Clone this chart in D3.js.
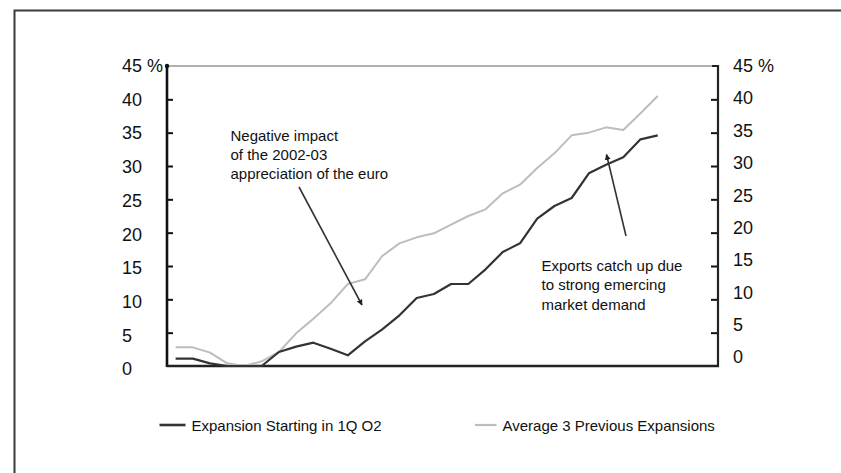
<!DOCTYPE html>
<html>
<head>
<meta charset="utf-8">
<script src="https://cdn.jsdelivr.net/npm/d3@7/dist/d3.min.js"></script>
<style>
  html, body { margin: 0; padding: 0; background: #fff; }
  svg { display: block; }
  text { font-family: "Liberation Sans", Arial, Helvetica, sans-serif; fill: #111; }
</style>
</head>
<body>
<svg id="chart" width="841" height="473"></svg>
<script>
// Quarters since the start of each expansion (32 slots on the x axis)
const quarters = d3.range(1, 33);

// Export volume growth since the start of the expansion, % (cumulative)
const expansion2002 = [
  1.1, 1.1, 0.4, 0.0, 0.0, 0.0, 2.1, 2.9, 3.5, 2.6,
  1.6, 3.7, 5.5, 7.6, 10.2, 10.8, 12.3, 12.3, 14.5, 17.1,
  18.4, 22.1, 24.0, 25.2, 28.9, 30.2, 31.3, 34.0, 34.6
];
const avgPrevious3 = [
  2.8, 2.8, 2.0, 0.4, 0.0, 0.7, 2.1, 4.9, 7.1, 9.4,
  12.3, 13.0, 16.5, 18.4, 19.3, 19.9, 21.2, 22.5, 23.5, 25.9,
  27.2, 29.7, 31.9, 34.6, 35.0, 35.8, 35.4, 37.9, 40.5
];

const seriesNames = ["Expansion Starting in 1Q O2", "Average 3 Previous Expansions"];
const seriesColors = ["#333333", "#bdbdbd"];

const yTicks = [0, 5, 10, 15, 20, 25, 30, 35, 40, 45];
const tickLabel = v => v === 45 ? "45 %" : String(v);

const svg = d3.select("#chart");

// outer frame
svg.append("path")
  .attr("d", "M14.5,473 V10.5 H841")
  .attr("fill", "none")
  .attr("stroke", "#3a3a3a")
  .attr("stroke-width", 2);

const x0 = 167, x1 = 718, yTop = 66, yBot = 366;

const x = d3.scaleBand().domain(quarters).range([x0, x1]);
const cx = q => x(q) + x.bandwidth() / 2;
const y = d3.scaleLinear().domain([0, 45]).range([yBot, yTop]);

// label positions for the two value axes
const yLabL = d3.scaleLinear().domain([0, 45]).range([369, 65.5]);
const yLabR = d3.scaleLinear().domain([0, 45]).range([357, 65.5]);

// top edge of the plot
svg.append("line")
  .attr("x1", x0).attr("x2", x1).attr("y1", yTop).attr("y2", yTop)
  .attr("stroke", "#b0b0b0").attr("stroke-width", 2);

// left axis (ticks pointing into the plot)
const leftAxis = svg.append("g")
  .attr("transform", `translate(${x0},0)`)
  .call(d3.axisRight(y).tickValues(yTicks.filter(v => v > 0 && v < 45))
    .tickSize(6).tickFormat(""));
leftAxis.select(".domain").remove();
leftAxis.selectAll(".tick line").attr("stroke", "#111").attr("stroke-width", 2);
svg.append("line")
  .attr("x1", x0).attr("x2", x0).attr("y1", yTop).attr("y2", yBot + 1)
  .attr("stroke", "#111").attr("stroke-width", 2.6);
svg.append("circle").attr("cx", x0).attr("cy", yTop).attr("r", 2.2).attr("fill", "#111");

// right axis (ticks pointing into the plot)
const rightAxis = svg.append("g")
  .attr("transform", `translate(${x1},0)`)
  .call(d3.axisLeft(y).tickValues(yTicks.filter(v => v > 0 && v < 45))
    .tickSize(7).tickFormat(""));
rightAxis.select(".domain").remove();
rightAxis.selectAll(".tick line").attr("stroke", "#111").attr("stroke-width", 2);
svg.append("line")
  .attr("x1", x1).attr("x2", x1).attr("y1", yTop - 1).attr("y2", yBot + 1)
  .attr("stroke", "#222").attr("stroke-width", 2.2);
svg.append("line")
  .attr("x1", x1 - 6).attr("x2", x1).attr("y1", yTop).attr("y2", yTop)
  .attr("stroke", "#222").attr("stroke-width", 2);

// bottom axis line
svg.append("line")
  .attr("x1", x0).attr("x2", x1 + 1).attr("y1", yBot).attr("y2", yBot)
  .attr("stroke", "#222").attr("stroke-width", 2.6);

// tick labels
svg.append("g").selectAll("text").data(yTicks).join("text")
  .attr("x", 122).attr("y", d => yLabL(d)).attr("dy", "0.36em")
  .attr("font-size", 18).text(tickLabel);
svg.append("g").selectAll("text").data(yTicks).join("text")
  .attr("x", 733).attr("y", d => yLabR(d)).attr("dy", "0.36em")
  .attr("font-size", 18).text(tickLabel);

// series lines
const line = d3.line().x((d, i) => cx(quarters[i])).y(d => y(d));
[avgPrevious3, expansion2002].forEach((vals, k) => {
  const idx = k === 0 ? 1 : 0;
  svg.append("path")
    .datum(vals)
    .attr("d", line)
    .attr("fill", "none")
    .attr("stroke", seriesColors[idx])
    .attr("stroke-width", idx === 0 ? 2.2 : 2)
    .attr("stroke-linejoin", "round");
});

// annotations with arrows
const defs = svg.append("defs");
defs.append("marker")
  .attr("id", "arrowhead")
  .attr("viewBox", "0 0 10 10")
  .attr("refX", 9).attr("refY", 5)
  .attr("markerWidth", 6).attr("markerHeight", 6)
  .attr("markerUnits", "userSpaceOnUse")
  .attr("orient", "auto")
  .append("path").attr("d", "M0,0 L10,5 L0,10 Z").attr("fill", "#222");

const notes = [
  { lines: ["Negative impact", "of the 2002-03", "appreciation of the euro"],
    x: 230.5, y: 140.5, step: 19.3, from: [299, 187], to: [362, 305] },
  { lines: ["Exports catch up due", "to strong emercing", "market demand"],
    x: 541.5, y: 270.5, step: 19.5, from: [626, 236], to: [606.5, 154.5] }
];
notes.forEach(n => {
  const t = svg.append("text").attr("font-size", 15);
  n.lines.forEach((s, i) => {
    t.append("tspan").attr("x", n.x).attr("y", n.y + i * n.step).text(s);
  });
  svg.append("line")
    .attr("x1", n.from[0]).attr("y1", n.from[1])
    .attr("x2", n.to[0]).attr("y2", n.to[1])
    .attr("stroke", "#333").attr("stroke-width", 1.6)
    .attr("marker-end", "url(#arrowhead)");
});

// legend
const legendItems = [
  { name: seriesNames[0], color: seriesColors[0], sx: 159.5, tx: 191.5, w: 2.6 },
  { name: seriesNames[1], color: seriesColors[1], sx: 475, tx: 502.5, w: 2.2 }
];
const lg = svg.append("g");
legendItems.forEach(d => {
  lg.append("line")
    .attr("x1", d.sx).attr("x2", d.sx + (d.tx - d.sx) - 6)
    .attr("y1", 425).attr("y2", 425)
    .attr("stroke", d.color).attr("stroke-width", d.w);
  lg.append("text").attr("x", d.tx).attr("y", 430.5)
    .attr("font-size", 15).text(d.name);
});
</script>
</body>
</html>
